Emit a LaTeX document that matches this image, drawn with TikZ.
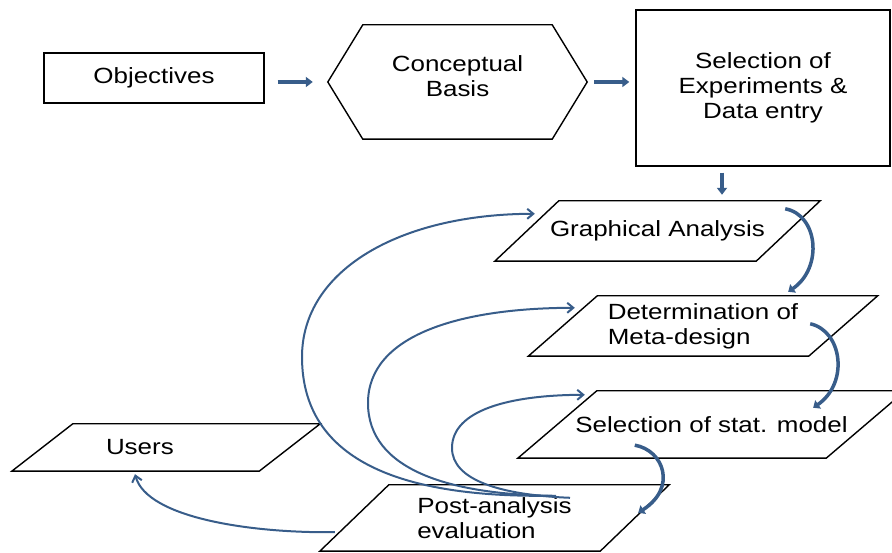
\documentclass[tikz,border=0pt]{standalone}
\usepackage{fontspec}
\setmainfont{Liberation Sans}[FakeStretch=1.18]
\usepackage{xcolor}
\usetikzlibrary{arrows.meta, positioning, calc}
\definecolor{flowblue}{RGB}{56,93,138}

\begin{document}
\begin{tikzpicture}[x=1pt, y=1pt,
    every node/.style={font=\fontsize{22}{25}\selectfont},
    box/.style={draw, line width=1.4pt, align=center},
    hexbox/.style={inner sep=0pt, align=center, append after command={\pgfextra{
        \draw[line width=1.4pt] (\tikzlastnode.north west) -- (\tikzlastnode.north east)
            -- ($(\tikzlastnode.east)+(#1,0)$) -- (\tikzlastnode.south east)
            -- (\tikzlastnode.south west) -- ($(\tikzlastnode.west)+(-#1,0)$) -- cycle;}}},
    para/.style={inner sep=0pt, append after command={\pgfextra{
        \draw[line width=1.4pt] ($(\tikzlastnode.south west)+(-#1/2,0)$)
            -- ($(\tikzlastnode.south east)+(-#1/2,0)$)
            -- ($(\tikzlastnode.north east)+(#1/2,0)$)
            -- ($(\tikzlastnode.north west)+(#1/2,0)$) -- cycle;}}},
    stepline/.style={flowblue, line width=3.5pt, -{Triangle[length=7pt, width=10pt]}},
    bendline/.style={flowblue, line width=3.5pt, -{Triangle[length=6pt, width=10pt]}},
    backline/.style={flowblue, line width=2pt, -{Straight Barb[length=6pt, width=10pt]}}]

    \useasboundingbox (0,0) rectangle (892,553);

    % Top row
    \node[box, minimum width=220pt, minimum height=50pt] (obj) at (154,475) {Objectives};
    \node[hexbox=35, minimum width=189pt, minimum height=114pt, text depth=12pt] (basis) at (457.5,471) {Conceptual\\Basis};
    \node[box, minimum width=254pt, minimum height=156pt] (sel) at (763,465) {Selection of\\Experiments \&\\Data entry};

    \draw[stepline, shorten <=13pt] (obj.east |- basis.west) -- ([xshift=-50pt]basis.west);
    \draw[stepline, shorten >=6pt] ([xshift=42pt]basis.east) -- (basis.east -| sel.west);

    % Analysis steps
    \node[para=64, minimum width=261pt, minimum height=60pt] (ga) at (657.5,322) {Graphical Analysis};
    \node[para=69, minimum width=280pt, minimum height=60pt, align=left] (det) at (703,227) {Determination of\\Meta-design};
    \node[para=79, minimum width=308pt, minimum height=67pt] (stm) at (711.5,128.5) {Selection of stat. model};
    \node[para=61, minimum width=247pt, minimum height=47pt, text width=120pt, align=left] (users) at (166,105.5) {Users};
    \node[para=69, minimum width=280pt, minimum height=66pt, align=left] (pa) at (494.5,35) {Post-analysis\\evaluation};

    \draw[stepline] ([xshift=-41pt, yshift=-6pt]sel.south) -- ([xshift=64.5pt, yshift=6pt]ga.north);

    % Forward bends
    \draw[bendline] ($(ga.north east)+(-3,-8)$) .. controls +(33,-6) and +(35,24) .. ($(det.north east)+(-55,4)$);
    \draw[bendline] ($(det.north east)+(-33,-28)$) .. controls +(32,-7) and +(36,25) .. ($(stm.north east)+(-52.5,-17)$);
    \draw[bendline] ($(stm.south west)+(77.5,13)$) .. controls +(29,-5) and +(39,25) .. ($(pa.north east)+(3.5,-28)$);

    % Feedback loops
    \draw[backline] ($(pa.north)+(53.5,-11)$) .. controls (420,56) and (302,83) .. (302,196)
        .. controls (302,283) and (400,339) .. ($(ga.north west)+(8,-13)$);
    \draw[backline] ($(pa.north)+(61.5,-11)$) .. controls (450,58) and (368,83) .. (368,150)
        .. controls (368,218) and (460,245) .. ($(det.north west)+(12,-12)$);
    \draw[backline] ($(pa.north)+(75.5,-13)$) .. controls (500,58) and (452,73) .. (452,105)
        .. controls (452,143) and (510,158) .. ($(stm.north west)+(27.5,-4)$);

    % To users
    \draw[backline] ($(pa.south west)+(-19.5,19)$) .. controls +(-83,-1) and +(12,-44) .. ([xshift=-31pt, yshift=-3pt]users.south);

\end{tikzpicture}
\end{document}
